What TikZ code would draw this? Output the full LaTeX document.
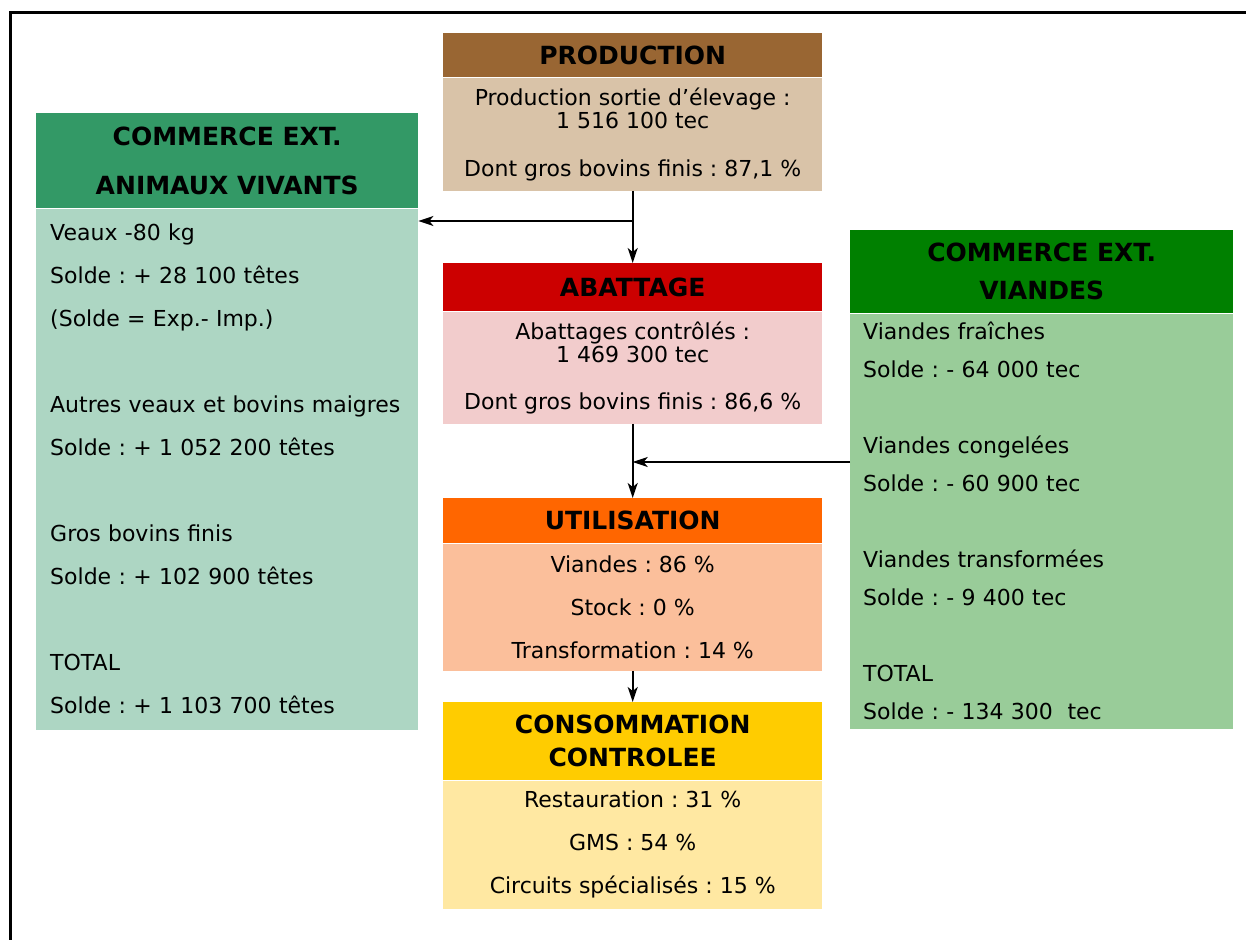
\documentclass[tikz,border=0pt]{standalone}
\usepackage{fontspec}
\setmainfont{DejaVu Sans}
\usepackage{xcolor}
\usetikzlibrary{positioning, arrows.meta}
\definecolor{prodbrown}{HTML}{996633}
\definecolor{prodtan}{HTML}{D9C3A8}
\definecolor{abatred}{HTML}{CC0000}
\definecolor{abatpink}{HTML}{F2CCCC}
\definecolor{utilorange}{HTML}{FF6600}
\definecolor{utilpeach}{HTML}{FBBF9B}
\definecolor{consyellow}{HTML}{FFCC00}
\definecolor{conscream}{HTML}{FFE8A2}
\definecolor{animgreen}{HTML}{339966}
\definecolor{animmint}{HTML}{ADD6C3}
\definecolor{viandgreen}{HTML}{008000}
\definecolor{viandsage}{HTML}{99CC99}
\frenchspacing

\begin{document}
\begin{tikzpicture}[x=1pt, y=-1pt,
  head/.style={fill=#1, inner sep=0pt, align=center,
    font=\fontsize{25}{33}\selectfont\bfseries},
  body/.style={fill=#1, inner sep=0pt, align=center,
    font=\fontsize{22}{23}\selectfont},
  flow/.style={-{Stealth[length=15pt, width=10pt, inset=4pt]}, line width=1.6pt}]
  \useasboundingbox (0,0) rectangle (1246,940);

  % frame (top and left only)
  \draw[line width=3pt] (1246,12) -| (10,940);

  % central chain
  \node[head=prodbrown, minimum width=379pt, minimum height=44pt, anchor=north west]
    (prodhead) at (443,33) {PRODUCTION};
  \node[body=prodtan, minimum width=379pt, minimum height=113pt, below=0pt of prodhead]
    (prodbody) {Production sortie d’élevage :\\1 516 100 tec\\[25pt]Dont gros bovins finis : 87,1 \%};

  \node[head=abatred, minimum width=379pt, minimum height=48pt, anchor=north west]
    (abathead) at (443,263) {ABATTAGE};
  \node[body=abatpink, minimum width=379pt, minimum height=112pt, below=0pt of abathead]
    (abatbody) {Abattages contrôlés :\\1 469 300 tec\\[24pt]Dont gros bovins finis : 86,6 \%};

  \node[head=utilorange, minimum width=379pt, minimum height=45pt, anchor=north west]
    (utilhead) at (443,498) {UTILISATION};
  \node[body=utilpeach, minimum width=379pt, minimum height=127pt, below=0pt of utilhead]
    (utilbody) {Viandes : 86 \%\\[20pt]Stock : 0 \%\\[20pt]Transformation : 14 \%};

  \node[head=consyellow, minimum width=379pt, minimum height=78pt, anchor=north west]
    (conshead) at (443,702) {CONSOMMATION\\CONTROLEE};
  \node[body=conscream, minimum width=379pt, minimum height=128pt, below=0pt of conshead]
    (consbody) {Restauration : 31 \%\\[20pt]GMS : 54 \%\\[20pt]Circuits spécialisés : 15 \%};

  % trade boxes
  \node[head=animgreen, minimum width=382pt, minimum height=95pt, anchor=north west]
    (animhead) at (36,113) {COMMERCE EXT.\\[16pt]ANIMAUX VIVANTS};
  \node[body=animmint, minimum width=382pt, minimum height=521pt, below=0pt of animhead,
        align=left, text width=354pt, inner xsep=14pt]
    (animbody) {Veaux -80 kg\\[20pt]Solde : + 28 100 têtes\\[20pt](Solde = Exp.- Imp.)\\[63pt]%
      Autres veaux et bovins maigres\\[20pt]Solde : + 1 052 200 têtes\\[63pt]%
      Gros bovins finis\\[20pt]Solde : + 102 900 têtes\\[63pt]%
      TOTAL\\[20pt]Solde : + 1 103 700 têtes};

  \node[head=viandgreen, minimum width=383pt, minimum height=83pt, anchor=north west]
    (viandhead) at (850,230) {COMMERCE EXT.\\[5pt]VIANDES};
  \node[body=viandsage, minimum width=383pt, minimum height=415pt, below=0pt of viandhead,
        align=left, text width=357pt, inner xsep=13pt]
    (viandbody) {Viandes fraîches\\[15pt]Solde : - 64 000 tec\\[53pt]%
      Viandes congelées\\[15pt]Solde : - 60 900 tec\\[53pt]%
      Viandes transformées\\[15pt]Solde : - 9 400 tec\\[53pt]%
      TOTAL\\[15pt]Solde : - 134 300~ tec};

  % flows
  \coordinate (split) at (prodbody.south |- 0,221);
  \coordinate (merge) at (abatbody.south |- 0,462);
  \draw[flow] (prodbody.south) -- (abathead.north);
  \draw[flow] (split) -- (split -| animbody.east);
  \draw[flow] (abatbody.south) -- (utilhead.north);
  \draw[flow] (merge -| viandbody.west) -- (merge);
  \draw[flow] (utilbody.south) -- (conshead.north);
\end{tikzpicture}
\end{document}
